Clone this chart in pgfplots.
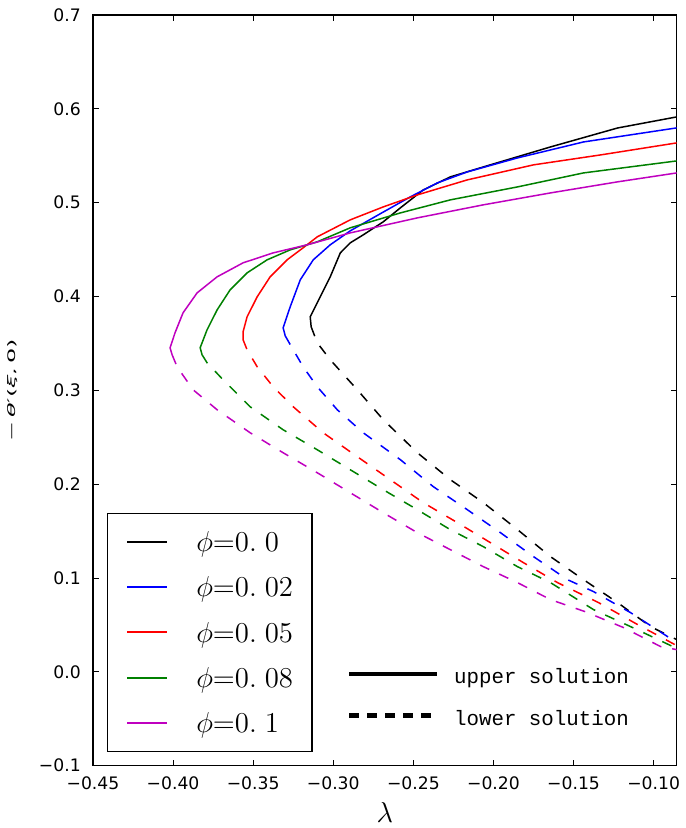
\documentclass[border=0pt]{standalone}
\usepackage{fontspec}
\setmainfont{DejaVu Sans}
\newfontfamily\monofont{Liberation Mono}
\usepackage{graphicx}
\usepackage{pgfplots}
\pgfplotsset{compat=1.18}
\definecolor{mplblue}{rgb}{0,0,1}
\definecolor{mplred}{rgb}{1,0,0}
\definecolor{mplgreen}{rgb}{0,0.5,0}
\definecolor{mplmag}{rgb}{0.75,0,0.75}
\begin{document}
\begin{tikzpicture}
\begin{axis}[
  at={(0,0)}, anchor=south west,
  scale only axis, width=291.85pt, height=375.35pt,
  xmin=-0.45, xmax=-0.0856, ymin=-0.1, ymax=0.7,
  xtick={-0.45,-0.4,-0.35,-0.3,-0.25,-0.2,-0.15,-0.1},
  xticklabels={−0.45,−0.40,−0.35,−0.30,−0.25,−0.20,−0.15,−0.10},
  ytick={-0.1,0,0.1,0.2,0.3,0.4,0.5,0.6,0.7},
  yticklabels={−0.1,0.0,0.1,0.2,0.3,0.4,0.5,0.6,0.7},
  tick align=inside, xtick pos=both, ytick pos=both,
  major tick length=3pt,
  tick style={black, line width=0.4pt},
  axis line style={line width=0.75pt},
  ticklabel style={font=\fontsize{8.6}{10}\selectfont},
  xticklabel style={yshift=-1.75pt},
  yticklabel style={xshift=-2.6pt},
  xlabel={\fontsize{15}{18}\selectfont$\lambda$},
  ylabel={\scalebox{2.3}[1]{\fontsize{5.2}{6}\selectfont −\,{\itshape θ}′({\itshape ξ},\,0)}},
  every axis x label/.style={at={(axis description cs:0.5,-0.0617)}, anchor=center},
  every axis y label/.style={at={(axis description cs:-0.137,0.5)}, rotate=90, anchor=center},
  legend image code/.code={\draw[#1, line width=1pt, solid] (0pt,0pt) -- (19.7pt,0pt);},
  legend cell align=left,
  legend style={at={(axis description cs:0,0)}, anchor=south west, xshift=6.9pt, yshift=7pt,
    draw=black, line width=0.6pt, fill=white, inner xsep=9.45pt, inner ysep=7.1pt,
    row sep=8.65pt, column sep=14.3pt,
    nodes={inner sep=0pt, text height=12pt, text depth=2pt},
    font=\fontsize{14.2}{17}\selectfont},
]
% upper solutions (solid)
\addplot[color=black, line width=0.75pt] coordinates {
(-0.3138,0.3677) (-0.3144,0.3784) (-0.3100,0.3933) (-0.3019,0.4210) (-0.2956,0.4465)
(-0.2894,0.4572) (-0.2813,0.4657) (-0.2688,0.4796) (-0.2581,0.4945) (-0.2438,0.5136)
(-0.2269,0.5275) (-0.2063,0.5381) (-0.1644,0.5594) (-0.1225,0.5796) (-0.0856,0.5914)};
\addlegendentry{$\phi{=}0.\;0$}
\addplot[color=mplblue, line width=0.75pt] coordinates {
(-0.3300,0.3581) (-0.3313,0.3667) (-0.3269,0.3890) (-0.3206,0.4178) (-0.3125,0.4391)
(-0.3019,0.4551) (-0.2894,0.4700) (-0.2688,0.4900) (-0.2519,0.5062)
(-0.2350,0.5211) (-0.2163,0.5328) (-0.1850,0.5477) (-0.1438,0.5647) (-0.0856,0.5797)};
\addlegendentry{$\phi{=}0.\;02$}
\addplot[color=mplred, line width=0.75pt] coordinates {
(-0.3563,0.3539) (-0.3563,0.3624) (-0.3538,0.3784) (-0.3475,0.3997) (-0.3394,0.4210)
(-0.3288,0.4391) (-0.3188,0.4519) (-0.3100,0.4636) (-0.2894,0.4817) (-0.2688,0.4955)
(-0.2475,0.5083) (-0.2163,0.5243) (-0.1750,0.5403) (-0.1331,0.5509) (-0.0856,0.5637)};
\addlegendentry{$\phi{=}0.\;05$}
\addplot[color=mplgreen, line width=0.75pt] coordinates {
(-0.3819,0.3379) (-0.3831,0.3454) (-0.3788,0.3645) (-0.3725,0.3858) (-0.3644,0.4071)
(-0.3538,0.4252) (-0.3413,0.4391) (-0.3269,0.4497) (-0.3100,0.4583) (-0.2894,0.4732)
(-0.2581,0.4891) (-0.2269,0.5030) (-0.1850,0.5168) (-0.1438,0.5317) (-0.0856,0.5445)};
\addlegendentry{$\phi{=}0.\;08$}
\addplot[color=mplmag, line width=0.75pt] coordinates {
(-0.4006,0.3379) (-0.4019,0.3454) (-0.3988,0.3613) (-0.3938,0.3826) (-0.3850,0.4039)
(-0.3725,0.4210) (-0.3563,0.4359) (-0.3375,0.4465) (-0.3163,0.4551) (-0.2894,0.4678)
(-0.2475,0.4838) (-0.2063,0.4977) (-0.1644,0.5104) (-0.1225,0.5222) (-0.0856,0.5317)};
\addlegendentry{$\phi{=}0.\;1$}
% lower solutions (dashed)
\addplot[color=black, line width=0.75pt, dash pattern=on 5pt off 5.5pt, forget plot] coordinates {
(-0.3138,0.3677) (-0.3100,0.3507) (-0.3019,0.3326) (-0.2850,0.3006) (-0.2688,0.2687)
(-0.2475,0.2335) (-0.2269,0.2048) (-0.2063,0.1803) (-0.1850,0.1516) (-0.1644,0.1228)
(-0.1438,0.0983) (-0.1225,0.0738) (-0.1019,0.0482) (-0.0856,0.0344)};
\addplot[color=mplblue, line width=0.75pt, dash pattern=on 5pt off 5.5pt, forget plot] coordinates {
(-0.3300,0.3581) (-0.3250,0.3432) (-0.3188,0.3251) (-0.3100,0.3038) (-0.2975,0.2793)
(-0.2813,0.2548) (-0.2581,0.2261) (-0.2375,0.1973) (-0.2163,0.1728) (-0.1956,0.1483)
(-0.1750,0.1228) (-0.1538,0.0983) (-0.1375,0.0855) (-0.1144,0.0631) (-0.0913,0.0376)
(-0.0856,0.0310)};
\addplot[color=mplred, line width=0.75pt, dash pattern=on 5pt off 5.5pt, forget plot] coordinates {
(-0.3563,0.3539) (-0.3538,0.3432) (-0.3475,0.3251) (-0.3375,0.3038) (-0.3250,0.2825)
(-0.3063,0.2548) (-0.2850,0.2293) (-0.2644,0.2048) (-0.2438,0.1803) (-0.2225,0.1590)
(-0.2019,0.1377) (-0.1813,0.1164) (-0.1600,0.0951) (-0.1344,0.0738) (-0.1100,0.0504)
(-0.0856,0.0280)};
\addplot[color=mplgreen, line width=0.75pt, dash pattern=on 5pt off 5.5pt, forget plot] coordinates {
(-0.3819,0.3379) (-0.3788,0.3294) (-0.3688,0.3113) (-0.3519,0.2825) (-0.3313,0.2580)
(-0.3100,0.2367) (-0.2894,0.2154) (-0.2688,0.1941) (-0.2475,0.1728) (-0.2269,0.1515)
(-0.2063,0.1334) (-0.1850,0.1121) (-0.1644,0.0951) (-0.1375,0.0663) (-0.1131,0.0472)
(-0.0856,0.0250)};
\addplot[color=mplmag, line width=0.75pt, dash pattern=on 5pt off 5.5pt, forget plot] coordinates {
(-0.4006,0.3379) (-0.3975,0.3251) (-0.3875,0.3006) (-0.3725,0.2793) (-0.3519,0.2548)
(-0.3313,0.2335) (-0.3100,0.2122) (-0.2894,0.1909) (-0.2688,0.1696) (-0.2475,0.1483)
(-0.2269,0.1302) (-0.2063,0.1121) (-0.1850,0.0951) (-0.1644,0.0770) (-0.1425,0.0640)
(-0.1188,0.0472) (-0.0956,0.0269) (-0.0856,0.0237)};
\end{axis}
\begin{axis}[
  at={(0,0)}, anchor=south west,
  scale only axis, width=291.85pt, height=375.35pt,
  hide axis, xmin=0, xmax=1, ymin=0, ymax=1,
  legend image code/.code={\draw[#1] (0pt,0pt) -- (43.7pt,0pt);},
  legend cell align=left,
  legend style={at={(axis description cs:0,0)}, anchor=south west, xshift=126.85pt, yshift=18.1pt,
    draw=none, fill=none, inner sep=0pt, row sep=7.25pt, column sep=7.5pt,
    nodes={inner sep=0pt, text height=11.5pt, text depth=2pt},
    font=\monofont\fontsize{10.4}{12}\selectfont},
]
\addlegendimage{black, line width=2.3pt}
\addlegendentry{upper solution}
\addlegendimage{black, line width=2.3pt, dash pattern=on 5pt off 4pt}
\addlegendentry{lower solution}
\end{axis}
\pgfresetboundingbox
\path (-46.5pt,-31.15pt) rectangle (296pt,382.85pt);
\end{tikzpicture}
\end{document}
